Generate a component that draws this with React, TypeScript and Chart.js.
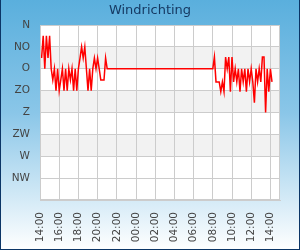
import { useEffect, useRef } from 'react';
import { Chart, registerables } from 'chart.js';

Chart.register(...registerables);

const chartTitle = 'Windrichting';
const directionLabels = ['N', 'NO', 'O', 'ZO', 'Z', 'ZW', 'W', 'NW', ''];
const timeTickLabels = ['14:00', '16:00', '18:00', '20:00', '22:00', '00:00', '02:00', '04:00', '06:00', '08:00', '10:00', '12:00', '14:00'];

const timesA = ['14:10', '14:20', '14:30', '14:40', '14:50', '15:00', '15:10', '15:20', '15:30', '15:40', '15:50', '16:00', '16:10', '16:20', '16:30', '16:40', '16:50', '17:00', '17:10', '17:20', '17:30', '17:40', '17:50', '18:00', '18:10', '18:20', '18:30', '18:40', '18:50', '19:00', '19:10', '19:20', '19:30', '19:40', '19:50', '20:00', '20:10', '20:20', '20:30', '20:40', '20:50', '21:00'];
const valuesA = [68, 22, 90, 22, 68, 22, 90, 113, 90, 135, 90, 135, 113, 90, 135, 90, 135, 90, 113, 90, 135, 90, 135, 90, 68, 45, 68, 45, 90, 135, 90, 135, 90, 68, 90, 68, 90, 113, 113, 113, 68, 90];

const timesB = ['08:00', '08:10', '08:20', '08:30', '08:40', '08:50', '09:00', '09:10', '09:20', '09:30', '09:40', '09:50', '10:00', '10:10', '10:20', '10:30', '10:40', '10:50', '11:00', '11:10', '11:20', '11:30', '11:40', '11:50', '12:00', '12:10', '12:20', '12:30', '12:40', '12:50', '13:00', '13:10', '13:20', '13:30', '13:40', '13:50', '14:00', '14:10'];
const valuesB = [90, 66, 117, 117, 117, 137, 117, 137, 66, 90, 66, 137, 66, 117, 90, 117, 90, 137, 90, 117, 90, 137, 90, 117, 90, 117, 160, 90, 117, 90, 117, 66, 66, 180, 90, 137, 90, 117];

const FONT = 'DejaVu Sans';

function buildPoints() {
  const times = [...timesA, ...timesB];
  const values = [...valuesA, ...valuesB];
  const pts: { x: number; y: number }[] = [];
  let prev = -1;
  let dayOffset = 0;
  times.forEach((t, i) => {
    const [h, m] = t.split(':').map(Number);
    let v = h + m / 60 - 14;
    if (v < 0) v += 24;
    v += dayOffset;
    if (v < prev) {
      dayOffset += 24;
      v += 24;
    }
    prev = v;
    pts.push({ x: v, y: values[i] });
  });
  return pts;
}

const bgPlugin = {
  id: 'bgPlugin',
  beforeDraw(chart: any) {
    const { ctx, width, height, chartArea: a } = chart;
    const ys = chart.scales.y;
    ctx.save();
    const g = ctx.createLinearGradient(0, 0, 0, height);
    g.addColorStop(0, '#5aafdd');
    g.addColorStop(0.45, '#8ac6e8');
    g.addColorStop(1, '#ffffff');
    ctx.fillStyle = g;
    ctx.fillRect(0, 0, width, height);
    ctx.fillStyle = '#0b3566';
    ctx.fillRect(0, 0, 1, height);
    ctx.fillRect(width - 1, 0, 1, height);
    ctx.fillRect(0, height - 1, width, 1);
    ctx.fillStyle = '#ffffff';
    ctx.fillRect(a.left, a.top, a.right - a.left, a.bottom - a.top);
    ctx.fillStyle = '#f2f2f2';
    [1, 3, 5].forEach((i) => {
      const y1 = ys.getPixelForValue(i * 45);
      const y2 = ys.getPixelForValue((i + 1) * 45);
      ctx.fillRect(a.left, y1, a.right - a.left, y2 - y1);
    });
    ctx.fillStyle = '#163a63';
    ctx.font = `13px "${FONT}"`;
    ctx.textAlign = 'center';
    ctx.textBaseline = 'middle';
    ctx.fillText(chartTitle, width / 2, 11);
    ctx.restore();
  },
  afterDraw(chart: any) {
    const { ctx, chartArea: a } = chart;
    ctx.save();
    ctx.strokeStyle = '#cccccc';
    ctx.lineWidth = 1;
    ctx.strokeRect(Math.round(a.left) + 0.5, Math.round(a.top) + 0.5, Math.round(a.right - a.left) - 1, Math.round(a.bottom - a.top) - 1);
    ctx.restore();
  },
};

export default function App() {
  const ref = useRef<HTMLCanvasElement>(null);
  useEffect(() => {
    document.body.style.margin = '0';
    if (!ref.current) return;
    const chart = new Chart(ref.current, {
      type: 'line',
      data: {
        datasets: [
          {
            data: buildPoints(),
            borderColor: '#ff0000',
            borderWidth: 1.5,
            pointRadius: 0,
            tension: 0,
            fill: false,
          },
        ],
      },
      options: {
        animation: false,
        responsive: false,
        events: [],
        layout: { padding: { left: 0, right: 20, top: 25, bottom: 0 } },
        plugins: {
          legend: { display: false },
          tooltip: { enabled: false },
          title: { display: false },
        },
        scales: {
          x: {
            type: 'linear',
            min: 0,
            max: 25,
            afterFit: (s: any) => {
              s.height = 50;
            },
            grid: { color: '#cccccc', drawTicks: false },
            border: { display: true, color: '#cccccc' },
            ticks: {
              stepSize: 2,
              includeBounds: false,
              autoSkip: false,
              maxRotation: 90,
              minRotation: 90,
              padding: 12,
              color: '#444444',
              font: { family: FONT, size: 10.5 },
              callback: (v: any) => timeTickLabels[Math.round(Number(v) / 2)] ?? '',
            },
          },
          y: {
            type: 'linear',
            reverse: true,
            min: 0,
            max: 360,
            afterFit: (s: any) => {
              s.width = 40;
            },
            grid: { color: '#cccccc', drawTicks: false },
            border: { display: true, color: '#cccccc' },
            ticks: {
              stepSize: 45,
              autoSkip: false,
              padding: 10,
              color: '#444444',
              font: { family: FONT, size: 10.5 },
              callback: (v: any) => directionLabels[Math.round(Number(v) / 45)] ?? '',
            },
          },
        },
      },
      plugins: [bgPlugin],
    });
    return () => chart.destroy();
  }, []);
  return <canvas ref={ref} width={300} height={250} style={{ display: 'block' }} />;
}
